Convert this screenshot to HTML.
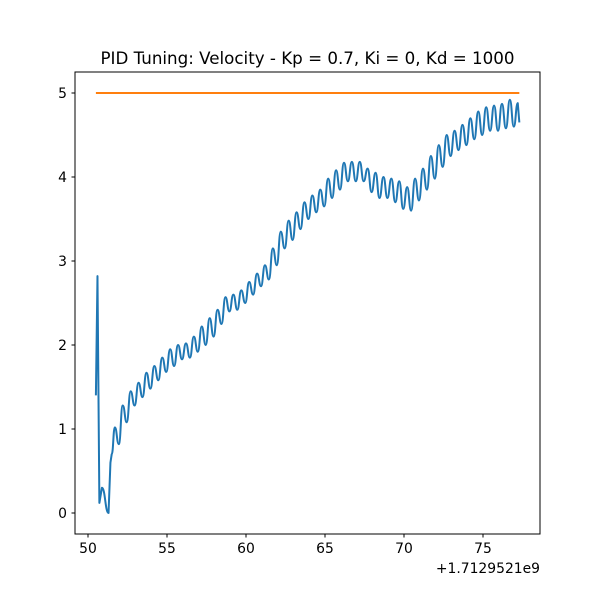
<!DOCTYPE html>
<html><head><meta charset="utf-8"><style>
body{margin:0;background:#fff}
svg{display:block;font-family:"DejaVu Sans","Liberation Sans",sans-serif}
</style></head><body>
<svg id="chart" width="600" height="600">
<rect width="600" height="600" fill="#fff"/>
<text x="307.5" y="64" text-anchor="middle" font-size="16.7">PID Tuning: Velocity - Kp = 0.7, Ki = 0, Kd = 1000</text>
<g id="plot"></g>
<rect x="75" y="72" width="465" height="462" fill="none" stroke="#000" stroke-width="1"/>
<text x="540" y="573" text-anchor="end" font-size="13.9">+1.7129521e9</text>
</svg>
<script>
const xTicks=[50,55,60,65,70,75];
const yTicks=[0,1,2,3,4,5];
const setpointT=[50.5,77.3];
const setpointV=[5,5];
const velT=[50.5,50.6,50.72,50.88,51.3,51.42,51.5,51.7,51.95,52.2,52.45,52.7,52.95,53.2,53.45,53.7,53.95,54.2,54.45,54.7,54.95,55.2,55.45,55.7,55.95,56.2,56.45,56.7,56.95,57.2,57.45,57.7,57.95,58.2,58.45,58.7,58.95,59.2,59.45,59.7,59.95,60.2,60.45,60.7,60.95,61.2,61.45,61.7,61.95,62.2,62.45,62.7,62.95,63.2,63.45,63.7,63.95,64.2,64.45,64.7,64.95,65.2,65.45,65.7,65.95,66.2,66.45,66.7,66.95,67.2,67.45,67.7,67.95,68.2,68.45,68.7,68.95,69.2,69.45,69.7,69.95,70.2,70.45,70.7,70.95,71.2,71.45,71.7,71.95,72.2,72.45,72.7,72.95,73.2,73.45,73.7,73.95,74.2,74.45,74.7,74.95,75.2,75.45,75.7,75.95,76.2,76.45,76.7,76.95,77.2,77.3];
const velV=[1.4,2.82,0.12,0.3,0.0,0.6,0.7,1.02,0.82,1.28,1.08,1.45,1.28,1.55,1.38,1.67,1.48,1.75,1.58,1.85,1.68,1.95,1.75,2.0,1.83,2.02,1.85,2.1,1.92,2.22,2.0,2.32,2.1,2.42,2.25,2.57,2.4,2.6,2.42,2.65,2.5,2.75,2.6,2.85,2.7,2.95,2.78,3.15,2.95,3.35,3.15,3.48,3.25,3.58,3.38,3.7,3.5,3.78,3.58,3.85,3.65,3.98,3.75,4.08,3.85,4.17,3.95,4.18,3.95,4.18,3.95,4.1,3.82,4.05,3.75,4.0,3.75,3.98,3.7,3.95,3.62,3.88,3.6,3.98,3.72,4.1,3.85,4.25,3.98,4.38,4.12,4.5,4.25,4.55,4.32,4.62,4.38,4.7,4.45,4.78,4.5,4.83,4.55,4.85,4.55,4.87,4.58,4.92,4.6,4.88,4.65];
const X=t=>88+(t-50)*15.8;
const Y=v=>513-v*84;
const NS='http://www.w3.org/2000/svg';
const g=document.getElementById('plot');
function mk(tag,attrs){const e=document.createElementNS(NS,tag);for(const k in attrs)e.setAttribute(k,attrs[k]);return e;}
xTicks.forEach(t=>{
  const l=mk('line',{x1:X(t),x2:X(t),y1:534,y2:537.5,stroke:'#000'});
  
  
  g.appendChild(l);
  const tx=mk('text',{x:X(t),y:553,'text-anchor':'middle','font-size':13.9});
  
  
  tx.textContent=t;g.appendChild(tx);
});
yTicks.forEach(v=>{
  const l=mk('line',{x1:71.5,x2:75,y1:Y(v),y2:Y(v),stroke:'#000'});
  
  
  g.appendChild(l);
  const tx=mk('text',{x:67,y:Y(v)+5,'text-anchor':'end','font-size':13.9});
  
  
  tx.textContent=v;g.appendChild(tx);
});
const sp=mk('line',{x1:X(setpointT[0]),x2:X(setpointT[1]),y1:Y(setpointV[0]),y2:Y(setpointV[1]),stroke:'#ff7f0e','stroke-width':2});


g.appendChild(sp);
let d='M'+X(velT[0])+','+Y(velV[0]);
for(let i=1;i<velT.length;i++){
  const x0=X(velT[i-1]),y0=Y(velV[i-1]),x1=X(velT[i]),y1=Y(velV[i]);
  if(velT[i]-velT[i-1]<0.15||i<4){d+=' L'+x1+','+y1;}
  else{const dx=(x1-x0)/2;d+=' C'+(x0+dx)+','+y0+' '+(x1-dx)+','+y1+' '+x1+','+y1;}
}
const p=mk('path',{d:d,fill:'none',stroke:'#1f77b4','stroke-width':2,'stroke-linejoin':'round'});


g.appendChild(p);
</script>
</body></html>
